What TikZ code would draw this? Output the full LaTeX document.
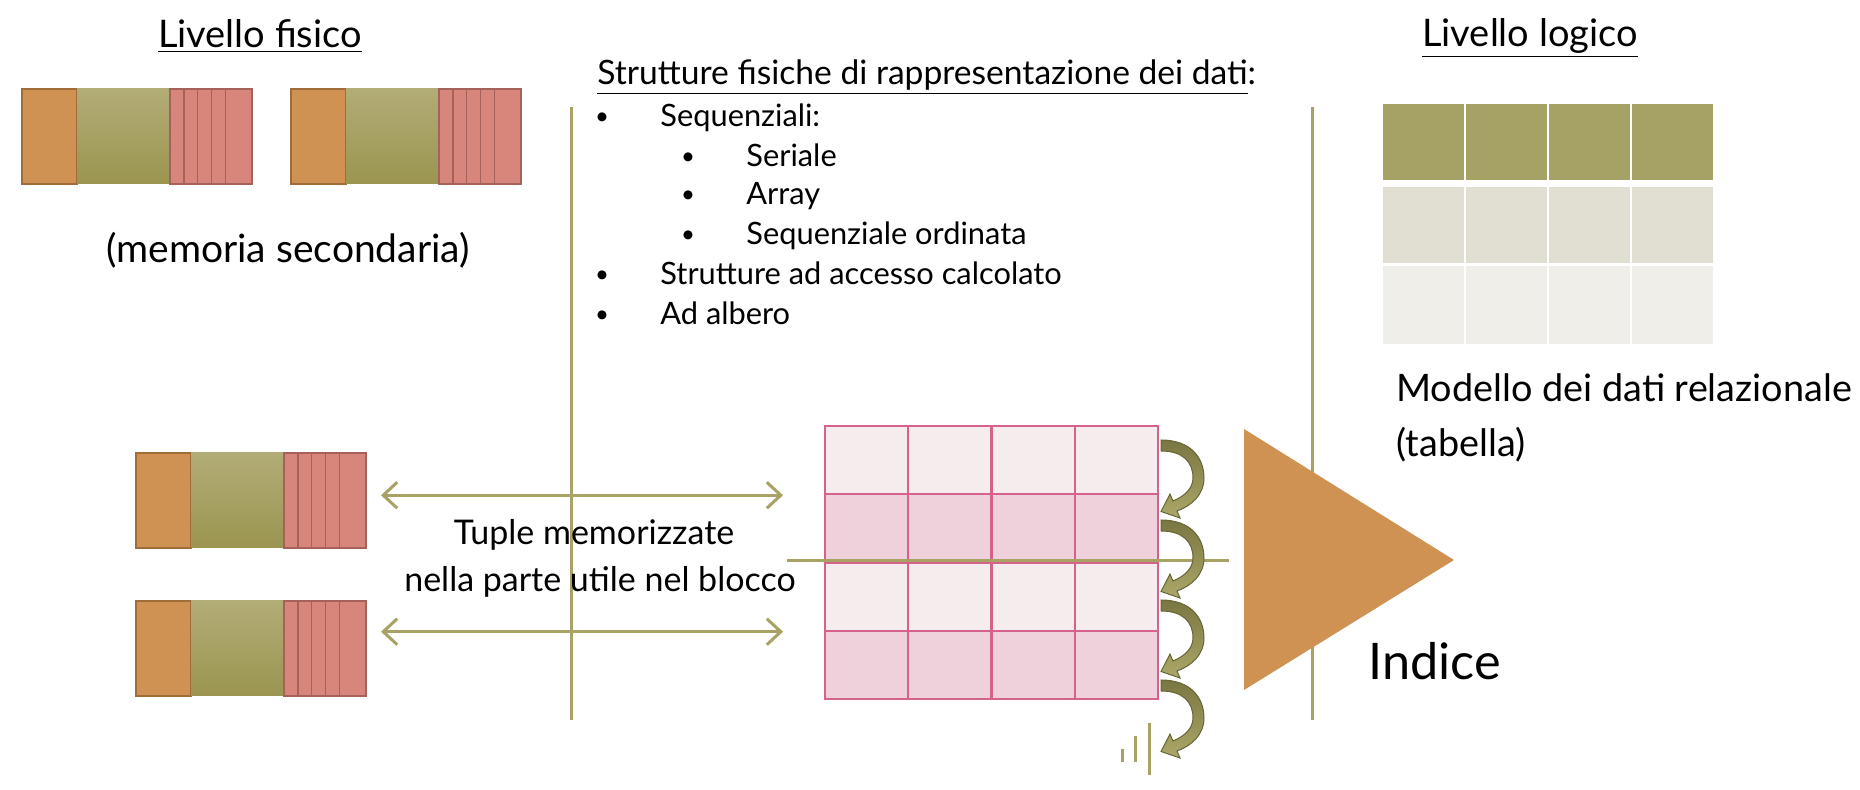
\documentclass[tikz,border=0pt]{standalone}
\usepackage{fontspec}
\setmainfont{Lato}
\usetikzlibrary{arrows.meta,positioning}

\definecolor{oliva}{RGB}{168,162,100}
\definecolor{arancio}{RGB}{208,146,82}
\definecolor{arancioscuro}{RGB}{160,108,58}
\definecolor{verdesu}{RGB}{178,172,118}
\definecolor{verdegiu}{RGB}{155,149,80}
\definecolor{rosso}{RGB}{216,134,124}
\definecolor{rossoscuro}{RGB}{165,98,90}
\definecolor{rosa}{RGB}{212,98,138}
\definecolor{rosachiaro}{RGB}{245,236,238}
\definecolor{rosamedio}{RGB}{238,209,218}
\definecolor{testata}{RGB}{166,161,100}
\definecolor{riga}{RGB}{224,223,210}
\definecolor{rigachiara}{RGB}{239,238,232}
\definecolor{girosu}{RGB}{122,118,66}
\definecolor{girogiu}{RGB}{172,168,104}

\newcommand{\corpo}[1]{\fontsize{#1}{#1}\selectfont}

% record su disco: nome, x, y, unita'
\newcommand{\record}[4]{%
  \begin{scope}[shift={(#2,#3)}, xscale=#4]
    \fill[arancio, draw=arancioscuro, line width=0.8pt] (0,0) rectangle (3.95,95);
    \shade[top color=verdesu, bottom color=verdegiu] (3.95,0) rectangle (10.6,95);
    \foreach \s/\e in {10.6/11.6,11.6/12.6,12.6/13.6,13.6/14.6,14.6/16.5}
      \filldraw[fill=rosso, draw=rossoscuro, line width=0.8pt] (\s,0) rectangle (\e,95);
    \coordinate (#1) at (16.5,47.5);
  \end{scope}}

\tikzset{
  giro/.pic={
    \shade[top color=girosu, bottom color=girogiu, draw=girosu!85!black, line width=0.5pt]
      (0,0) .. controls (30,0) and (43,18) .. (43,38)
      .. controls (43,55) and (30,66) .. (16,71)
      -- (19,78) -- (0,71.5) -- (9,54) -- (12,61)
      .. controls (24,56) and (32,48) .. (32,38)
      .. controls (32,22) and (22,11) .. (0,11) -- cycle;
  }
}

\begin{document}
\begin{tikzpicture}[x=0.5pt, y=-0.5pt,
    testo/.style={inner sep=0pt, anchor=base},
    linea/.style={draw=oliva, line width=1.5pt},
    tupla/.style={oliva, line width=1.5pt, {Straight Barb[length=7pt,width=13pt]}-{Straight Barb[length=7pt,width=13pt]}},
    cella/.style={draw=rosa, line width=1pt, minimum width=41.6pt, minimum height=34.1pt, inner sep=0pt},
    casella/.style={minimum width=40.5pt, minimum height=38pt, inner sep=0pt}]
  \useasboundingbox[fill=white] (0,0) rectangle (1860,790);

  % Livello fisico
  \node[testo] (fisico) at (260,48) {\corpo{19pt}\underline{Livello fisico}};
  \record{rec1}{22}{89}{13.94}
  \record{rec2}{291}{89}{13.94}
  \node[testo] (memoria) at (288,263) {\corpo{19.5pt}(memoria secondaria)};

  % Separatori
  \draw[linea] (571,107) -- (571,720);
  \draw[linea] (1312,107) -- (1312,720);

  % Strutture fisiche
  \node[testo, anchor=base west] (strutture) at (597,85) {\corpo{16.8pt}\underline{Strutture fisiche di rappresentazione dei dati}:};
  \foreach \y/\x/\t [count=\i] in {127/660/Sequenziali:, 167/746/Seriale, 205/746/Array, 245/746/Sequenziale ordinata, 285/660/Strutture ad accesso calcolato, 325/660/Ad albero} {
    \node[testo, anchor=base west] (voce\i) at (\x,\y) {\corpo{15.4pt}\t};
    \node[testo, anchor=base] (punto\i) at ({\x-58},{\y-2}) {\corpo{12pt}•};
  }

  % Livello logico
  \node[testo] (logico) at (1530,47) {\corpo{19pt}\underline{Livello logico}};
  \foreach \c in {1,...,4} {
    \node[casella, fill=testata] (t-1-\c) at ({1423.5+83*(\c-1)},142) {};
    \node[casella, fill=riga] (t-2-\c) at ({1423.5+83*(\c-1)},225) {};
    \node[casella, fill=rigachiara, minimum height=39pt] (t-3-\c) at ({1423.5+83*(\c-1)},305) {};
  }
  \node[testo, anchor=base west] (modello) at (1396,402) {\corpo{18.9pt}Modello dei dati relazionale};
  \node[testo, anchor=base west] (tabella) at (1396,457) {\corpo{18.9pt}(tabella)};

  % Blocco con le tuple
  \foreach \r in {1,...,4}
    \foreach \c in {1,...,4} {
      \ifodd\r \def\tinta{rosachiaro}\else \def\tinta{rosamedio}\fi
      \node[cella, fill=\tinta] (c-\r-\c) at ({825+83.25*(\c-0.5)},{426+68.25*(\r-0.5)}) {};
    }
  \draw[linea] (787,561) -- (1229,561);
  \foreach \k in {0,...,3}
    \pic at (1161,{440+80*\k}) {giro};
  \draw[linea] (1122,749) -- (1122,762);
  \draw[linea] (1135,736) -- (1135,762);
  \draw[linea] (1149,723) -- (1149,775);

  % Record in memoria
  \record{rec3}{136}{453}{13.94}
  \record{rec4}{136}{601}{13.94}
  \draw[tupla, shorten <=7.5pt, shorten >=20.5pt] (rec3 |- c-1-1.south west) -- (c-1-1.south west);
  \draw[tupla, shorten <=7.5pt, shorten >=20.5pt] (rec4 |- c-3-1.south west) -- (c-3-1.south west);
  \node[testo] (tuple1) at (594,545) {\corpo{17pt}Tuple memorizzate};
  \node[testo] (tuple2) at (600,592) {\corpo{17pt}nella parte utile nel blocco};

  % Indice
  \fill[arancio] (1244,429) -- (1244,690) -- (1454,560) -- cycle;
  \node[testo, anchor=base west] (indice) at (1368,680) {\corpo{25.2pt}Indice};
\end{tikzpicture}
\end{document}
